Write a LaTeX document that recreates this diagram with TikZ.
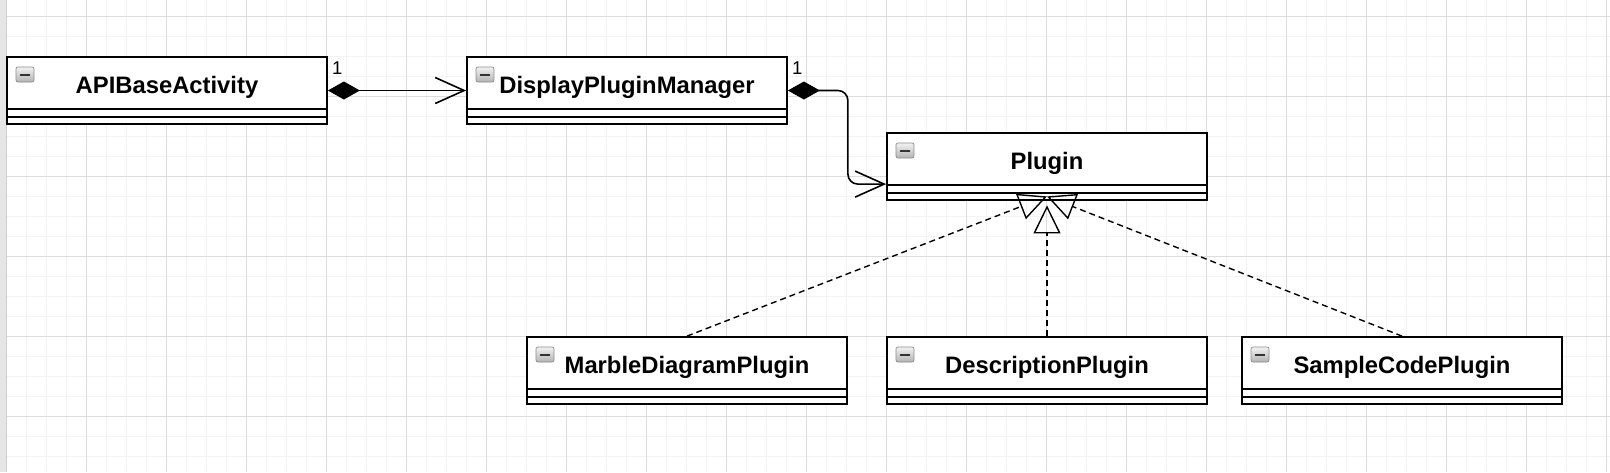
\documentclass[tikz,border=0pt]{standalone}
\usepackage{fontspec}
\setmainfont{Liberation Sans}
\usetikzlibrary{arrows.meta,calc}
\definecolor{gridminor}{HTML}{F3F3F3}
\definecolor{gridmajor}{HTML}{DDDDDD}
\definecolor{sidebar}{HTML}{E6E6E6}
\definecolor{sideedge}{HTML}{CFCFCF}
\definecolor{iconborder}{HTML}{8C8C8C}
\tikzset{
  umlclass/.style={draw=black, line width=1.8pt, fill=white,
    minimum width=320pt, minimum height=67pt, inner sep=0pt,
    text height=36pt, text depth=31pt,
    font=\fontsize{23.8}{28}\selectfont\bfseries,
    path picture={
      \draw[line width=1.8pt] ([yshift=-52pt]path picture bounding box.north west) -- ([yshift=-52pt]path picture bounding box.north east);
      \draw[line width=1.8pt] ([yshift=-60pt]path picture bounding box.north west) -- ([yshift=-60pt]path picture bounding box.north east);
      \shadedraw[top color=black!5, bottom color=black!30, draw=iconborder, line width=0.7pt, rounded corners=2pt]
        ([shift={(9pt,-10pt)}]path picture bounding box.north west) rectangle ++(18pt,-15pt);
      \fill[black!80] ([shift={(13pt,-16.5pt)}]path picture bounding box.north west) rectangle ++(10pt,-2.6pt);
    }},
  mult/.style={font=\fontsize{18.5}{20}\selectfont, inner sep=0pt, anchor=base west},
  comp/.style={line width=1.6pt, line join=round,
    {Diamond[length=32pt,width=18pt]}-{Straight Barb[length=29pt,width=26pt]}},
  real/.style={line width=1.4pt, dash pattern=on 6pt off 4pt,
    -{Triangle[open,length=28pt,width=27pt]}},
  gridmin/.style={draw=gridminor, line width=1pt},
  gridmaj/.style={draw=gridmajor, line width=1pt}
}
\begin{document}
\begin{tikzpicture}[x=1pt,y=-1pt]
\useasboundingbox (0,0) rectangle (1610,472);
\fill[white] (0,0) rectangle (1610,472);
% grid
\foreach \gx in {6.7,26.7,...,1610} {\draw[gridmin] (\gx,0) -- (\gx,472);}
\foreach \gy in {16,36,...,472} {\draw[gridmin] (0,\gy) -- (1610,\gy);}
\foreach \gx in {86.7,166.7,...,1610} {\draw[gridmaj] (\gx,0) -- (\gx,472);}
\foreach \gy in {16,96,...,472} {\draw[gridmaj] (0,\gy) -- (1610,\gy);}
\fill[sidebar] (0,0) rectangle (6,472);
\fill[sideedge] (6,0) rectangle (7.3,472);

% classes
\node[umlclass] (api) at (167,90.5) {APIBaseActivity};
\node[umlclass] (dpm) at (627,90.5) {DisplayPluginManager};
\node[umlclass] (plugin) at (1047,166.5) {Plugin};
\node[umlclass] (mdp) at (687,370.5) {MarbleDiagramPlugin};
\node[umlclass] (desc) at (1047,370.5) {DescriptionPlugin};
\node[umlclass] (scp) at (1402,370.5) {SampleCodePlugin};

% multiplicities
\node[mult] (m1) at ([shift={(4pt,-18pt)}]api.north east) {1};
\node[mult] (m2) at ([shift={(4pt,-18pt)}]dpm.north east) {1};

% compositions
\draw[comp] (api.east) -- (dpm.west);
\coordinate (pin) at ([yshift=-52pt]plugin.north west);
\coordinate (bend) at ([xshift=60pt]dpm.east);
\draw[comp, rounded corners=10pt] (dpm.east) -- (bend) |- (pin);

% realizations
\coordinate (gside) at ([yshift=4.5pt]plugin.south);
\coordinate (gmid) at ([yshift=-4.5pt]plugin.south);
\draw[real] (mdp.north) -- (gside);
\draw[real] (scp.north) -- (gside);
\draw[real] (desc.north) -- (gmid);
\end{tikzpicture}
\end{document}
